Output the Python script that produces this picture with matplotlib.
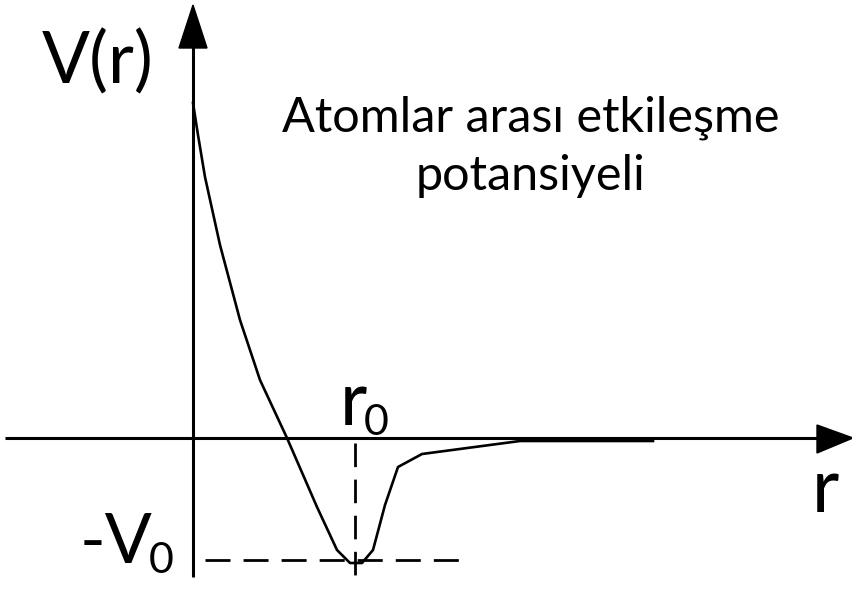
import matplotlib
matplotlib.use("Agg")
import matplotlib.pyplot as plt
from matplotlib.patches import Polygon

plt.rcParams['font.family'] = ['Lato', 'DejaVu Sans']

# ---------------------------
# Eğri verisi (eksen kesişimi = orijin)
# ---------------------------
r = [0, 5, 12, 27, 47, 67, 94, 124, 144, 157, 169, 180, 192, 205, 229, 327, 460]
V = [335, 303, 261, 193, 118, 58, 0, -69, -112, -125, -125, -112, -67, -29, -16, -3, -3]

r0 = 162     # denge uzaklığı
V0 = 122     # kuyu derinliği

fig = plt.figure(figsize=(8.53, 5.89), dpi=100)
ax = fig.add_axes([0, 0, 1, 1])
ax.set_xlim(-193, 660)
ax.set_ylim(-151, 438)
ax.axis('off')

# eksenler
ax.plot([-188, 630], [0, 0], color='black', lw=2.2, solid_capstyle='butt')
ax.plot([0, 0], [-139, 395], color='black', lw=2.2, solid_capstyle='butt')
ax.add_patch(Polygon([[624, 13], [624, -15], [660, 0]], closed=True, color='black'))
ax.add_patch(Polygon([[-14, 390], [14, 390], [0, 433]], closed=True, color='black'))

# potansiyel eğrisi
ax.plot(r, V, color='black', lw=1.9)

# kesikli çizgiler
ax.plot([r0, r0], [-5, -147], color='black', lw=2.0, dashes=(8.5, 4.5))
ax.plot([12, 275], [-V0, -V0], color='black', lw=2.0, dashes=(9, 4.7))

# yazılar
ax.text(-151, 355, "V(r)", fontsize=51, ha='left', va='baseline')
ax.text(338, 306, "Atomlar arası etkileşme", fontsize=35, ha='center', va='baseline')
ax.text(338, 248, "potansiyeli", fontsize=35, ha='center', va='baseline')
ax.text(147, 13, "r", fontsize=54, ha='left', va='baseline')
ax.text(171, 3, "0", fontsize=31, ha='left', va='baseline')
ax.text(619, -74, "r", fontsize=54, ha='left', va='baseline')
ax.text(-113, -125, "-V", fontsize=50, ha='left', va='baseline')
ax.text(-44, -135, "0", fontsize=31, ha='left', va='baseline')

fig.savefig("out.png", dpi=100)
